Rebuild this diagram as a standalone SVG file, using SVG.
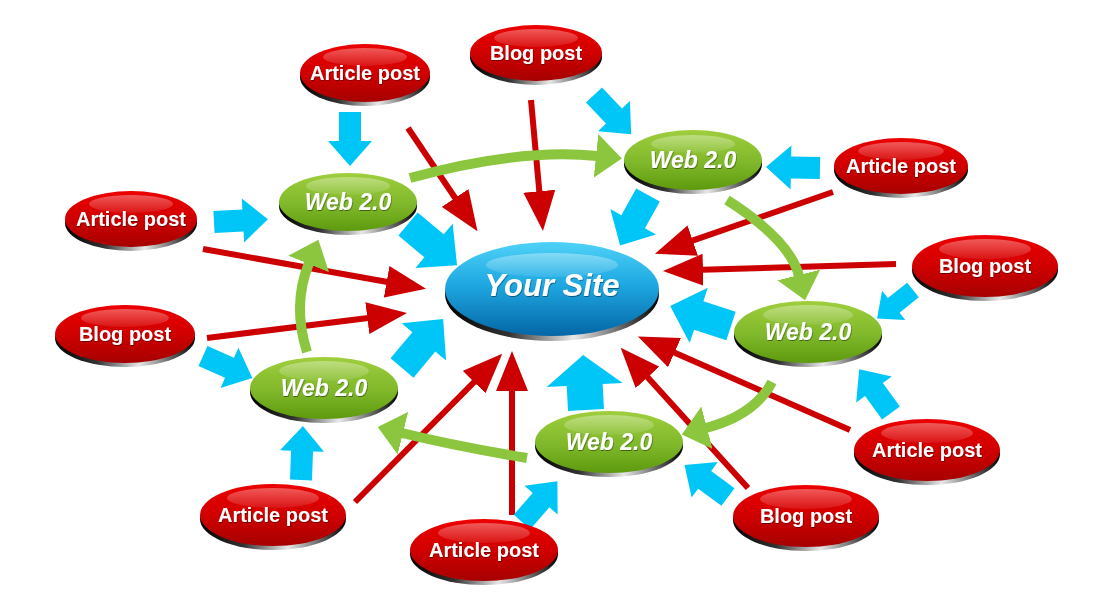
<svg xmlns="http://www.w3.org/2000/svg" xmlns:xlink="http://www.w3.org/1999/xlink" width="1095" height="605" viewBox="0 0 1095 605">
<style>
.lbl{font-family:"Liberation Sans",Arial,sans-serif;font-weight:bold;font-size:20px;fill:#fff;text-anchor:middle;filter:url(#ts)}
.web{font-style:italic;font-size:23px}
.site{font-style:italic;font-size:31px}
.rim{fill:url(#rimG)}
.red{fill:url(#redG)}
.grn{fill:url(#grnG)}
.blu{fill:url(#bluG)}
.hl{fill:url(#hlG)}
.rl{stroke:#cc0000;stroke-width:6;fill:none;marker-end:url(#rh)}
.gl{stroke:#8cc63f;stroke-width:10;fill:none;marker-end:url(#gh)}
.ba{fill:#00c6f8}
</style>
<defs>
<linearGradient id="redG" x1="0" y1="0" x2="0" y2="1"><stop offset="0" stop-color="#ec0000"/><stop offset="0.5" stop-color="#d00000"/><stop offset="1" stop-color="#a60000"/></linearGradient>
<linearGradient id="grnG" x1="0" y1="0" x2="0" y2="1"><stop offset="0" stop-color="#9fce3e"/><stop offset="0.55" stop-color="#7fb82a"/><stop offset="1" stop-color="#5e9a0e"/></linearGradient>
<linearGradient id="bluG" x1="0" y1="0" x2="0" y2="1"><stop offset="0" stop-color="#4fd2f8"/><stop offset="0.45" stop-color="#1ea8e2"/><stop offset="1" stop-color="#0566a6"/></linearGradient>
<linearGradient id="rimG" x1="0" y1="0" x2="1" y2="0"><stop offset="0" stop-color="#000"/><stop offset="0.3" stop-color="#333"/><stop offset="0.6" stop-color="#e8e8e8"/><stop offset="0.85" stop-color="#555"/><stop offset="1" stop-color="#000"/></linearGradient>
<linearGradient id="hlG" x1="0" y1="0" x2="0" y2="1"><stop offset="0" stop-color="#fff" stop-opacity="0.35"/><stop offset="1" stop-color="#fff" stop-opacity="0.08"/></linearGradient>
<filter id="ts" x="-10%" y="-20%" width="120%" height="150%"><feDropShadow dx="0.6" dy="1" stdDeviation="0.6" flood-color="#000" flood-opacity="0.45"/></filter>
<marker id="rh" markerUnits="userSpaceOnUse" viewBox="0 0 40 32" refX="1" refY="16" markerWidth="40" markerHeight="32" orient="auto"><path d="M0,0 L40,16 L0,32 z" fill="#cc0000"/></marker>
<marker id="gh" markerUnits="userSpaceOnUse" viewBox="0 0 26 44" refX="1" refY="22" markerWidth="26" markerHeight="44" orient="auto"><path d="M0,0 L26,22 L0,44 z" fill="#8cc63f"/></marker>
<path id="bs" d="M0,-11 L29,-11 L29,-22 L54,0 L29,22 L29,11 L0,11 z"/>
<path id="bl" d="M0,-15 L34,-15 L34,-29 L64,0 L34,29 L34,15 L0,15 z"/>
</defs>
<rect width="1095" height="605" fill="#fff"/>
<g id="connectors">
<g id="red-arrows">
<line class="rl" x1="408" y1="128" x2="455.7" y2="198.8"/>
<line class="rl" x1="531" y1="100" x2="539.4" y2="192.2"/>
<line class="rl" x1="203" y1="249" x2="387.6" y2="282"/>
<line class="rl" x1="207" y1="338" x2="368.3" y2="317.9"/>
<line class="rl" x1="355" y1="502" x2="474.8" y2="381.4"/>
<line class="rl" x1="512" y1="515" x2="512" y2="390"/>
<line class="rl" x1="748" y1="488" x2="646.9" y2="376.6"/>
<line class="rl" x1="850" y1="430" x2="673.6" y2="352.2"/>
<line class="rl" x1="896" y1="264" x2="702" y2="269.8"/>
<line class="rl" x1="833" y1="192" x2="691.8" y2="240.9"/>
</g>
<g id="green-arrows">
<path class="gl" d="M410,178 Q520,148 597,156"/>
<path class="gl" d="M727,200 Q790,240 799,276"/>
<path class="gl" d="M772,382 Q755,415 706,428"/>
<path class="gl" d="M527,458 Q455,446 402,433"/>
<path class="gl" d="M307,352 Q292,305 309,263"/>
</g>
<g id="blue-arrows" class="ba">
<use href="#bs" transform="translate(350,112) rotate(90)"/>
<use href="#bs" transform="translate(214,222) rotate(-3)"/>
<use href="#bl" transform="translate(408,224) rotate(40)"/>
<use href="#bs" transform="translate(203,356) rotate(24)"/>
<use href="#bl" transform="translate(402,368) rotate(-50)"/>
<use href="#bs" transform="translate(301,480) rotate(-88)"/>
<use href="#bs" transform="translate(522,522) rotate(-49)"/>
<path d="M0,-18 L25,-18 L25,-38 L55,0 L25,38 L25,18 L0,18 z" transform="translate(586,410) rotate(-93)"/>
<use href="#bs" transform="translate(728,497) rotate(-143.6)"/>
<use href="#bs" transform="translate(891,413) rotate(-126)"/>
<use href="#bs" transform="translate(913,290) rotate(141.5) scale(0.85)"/>
<use href="#bl" transform="translate(731,326) rotate(-161.8)"/>
<use href="#bl" transform="translate(648,195) rotate(119) scale(0.9)"/>
<use href="#bs" transform="translate(594,95) rotate(46.5)"/>
<use href="#bs" transform="translate(820,168) rotate(181)"/>
</g>
</g>
<g id="site" transform="translate(552,289)"><ellipse class="rim" cy="5" rx="107" ry="47"/><ellipse class="blu" rx="107" ry="47"/><ellipse class="hl" cy="-24" rx="66" ry="12"/><text class="lbl site" y="7">Your Site</text></g>
<g id="web1" transform="translate(348,202)"><ellipse class="rim" cy="4" rx="69" ry="29"/><ellipse class="grn" rx="69" ry="29"/><ellipse class="hl" cy="-16" rx="42" ry="9"/><text class="lbl web" y="8">Web 2.0</text></g>
<g id="web2" transform="translate(693,160)"><ellipse class="rim" cy="4" rx="69" ry="30"/><ellipse class="grn" rx="69" ry="30"/><ellipse class="hl" cy="-16" rx="42" ry="9"/><text class="lbl web" y="8">Web 2.0</text></g>
<g id="web3" transform="translate(808,332)"><ellipse class="rim" cy="4" rx="74" ry="31"/><ellipse class="grn" rx="74" ry="31"/><ellipse class="hl" cy="-17" rx="45" ry="10"/><text class="lbl web" y="8">Web 2.0</text></g>
<g id="web4" transform="translate(609,442)"><ellipse class="rim" cy="4" rx="74" ry="31"/><ellipse class="grn" rx="74" ry="31"/><ellipse class="hl" cy="-17" rx="45" ry="10"/><text class="lbl web" y="8">Web 2.0</text></g>
<g id="web5" transform="translate(324,388)"><ellipse class="rim" cy="4" rx="74" ry="31"/><ellipse class="grn" rx="74" ry="31"/><ellipse class="hl" cy="-17" rx="45" ry="10"/><text class="lbl web" y="8">Web 2.0</text></g>
<g id="article1" transform="translate(365,73)"><ellipse class="rim" cy="4" rx="65" ry="29"/><ellipse class="red" rx="65" ry="29"/><ellipse class="hl" cy="-16" rx="42" ry="9"/><text class="lbl" y="7">Article post</text></g>
<g id="blog1" transform="translate(536,53)"><ellipse class="rim" cy="4" rx="66" ry="28"/><ellipse class="red" rx="66" ry="28"/><ellipse class="hl" cy="-15" rx="42" ry="9"/><text class="lbl" y="7">Blog post</text></g>
<g id="article2" transform="translate(131,219)"><ellipse class="rim" cy="4" rx="66" ry="28"/><ellipse class="red" rx="66" ry="28"/><ellipse class="hl" cy="-15" rx="42" ry="9"/><text class="lbl" y="7">Article post</text></g>
<g id="blog2" transform="translate(125,334)"><ellipse class="rim" cy="4" rx="70" ry="29"/><ellipse class="red" rx="70" ry="29"/><ellipse class="hl" cy="-16" rx="44" ry="9"/><text class="lbl" y="7">Blog post</text></g>
<g id="article3" transform="translate(901,166)"><ellipse class="rim" cy="4" rx="67" ry="28"/><ellipse class="red" rx="67" ry="28"/><ellipse class="hl" cy="-15" rx="43" ry="9"/><text class="lbl" y="7">Article post</text></g>
<g id="blog3" transform="translate(985,266)"><ellipse class="rim" cy="4" rx="73" ry="31"/><ellipse class="red" rx="73" ry="31"/><ellipse class="hl" cy="-17" rx="46" ry="10"/><text class="lbl" y="7">Blog post</text></g>
<g id="article4" transform="translate(927,450)"><ellipse class="rim" cy="4" rx="73" ry="31"/><ellipse class="red" rx="73" ry="31"/><ellipse class="hl" cy="-17" rx="46" ry="10"/><text class="lbl" y="7">Article post</text></g>
<g id="blog4" transform="translate(806,516)"><ellipse class="rim" cy="4" rx="73" ry="31"/><ellipse class="red" rx="73" ry="31"/><ellipse class="hl" cy="-17" rx="46" ry="10"/><text class="lbl" y="7">Blog post</text></g>
<g id="article5" transform="translate(484,550)"><ellipse class="rim" cy="4" rx="74" ry="31"/><ellipse class="red" rx="74" ry="31"/><ellipse class="hl" cy="-17" rx="46" ry="10"/><text class="lbl" y="7">Article post</text></g>
<g id="article6" transform="translate(273,515)"><ellipse class="rim" cy="4" rx="73" ry="31"/><ellipse class="red" rx="73" ry="31"/><ellipse class="hl" cy="-17" rx="46" ry="10"/><text class="lbl" y="7">Article post</text></g>
</svg>
